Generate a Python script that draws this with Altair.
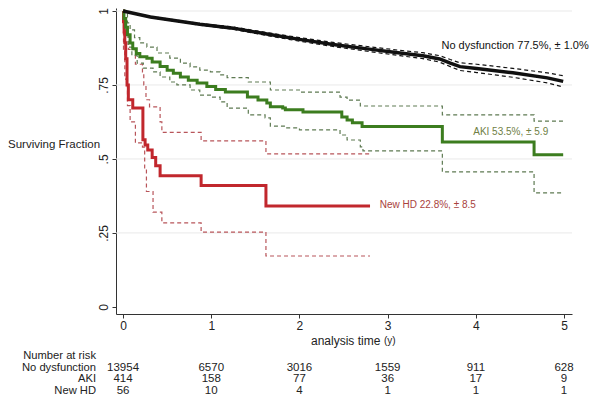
import altair as alt
import pandas as pd

FONT = "Liberation Sans"

# ---------------- data ----------------
x_ticks = [0, 1, 2, 3, 4, 5]
y_ticks = [0, 0.25, 0.5, 0.75, 1]
y_tick_labels = ["0", ".25", ".5", ".75", "1"]
grid_levels = [0.25, 0.5, 0.75, 1]

# No dysfunction
nodys_t = [0, 0.31, 0.87, 1.25, 1.63, 2.0, 2.38, 2.77, 3.14, 3.40, 3.59, 3.71, 3.82, 4.01, 4.42, 4.81, 4.99]
nodys_s = [1, 0.980, 0.955, 0.942, 0.922, 0.904, 0.887, 0.872, 0.858, 0.849, 0.838, 0.824, 0.812, 0.806, 0.791, 0.774, 0.762]
nodys_hi = [1, 0.982, 0.958, 0.946, 0.927, 0.910, 0.894, 0.880, 0.867, 0.859, 0.849, 0.836, 0.825, 0.820, 0.806, 0.791, 0.781]
nodys_lo = [1, 0.978, 0.952, 0.938, 0.917, 0.898, 0.880, 0.864, 0.849, 0.839, 0.827, 0.812, 0.799, 0.792, 0.776, 0.757, 0.743]

# AKI
aki_t = [0, 0.01, 0.03, 0.05, 0.08, 0.11, 0.15, 0.19, 0.27, 0.33, 0.42, 0.50, 0.57, 0.65, 0.74, 0.84, 0.95,
         1.05, 1.16, 1.41, 1.53, 1.63, 1.67, 1.81, 1.84, 2.04, 2.48, 2.54, 2.60, 2.71, 3.62, 4.66, 4.99]
aki_s = [1, 0.975, 0.945, 0.920, 0.892, 0.872, 0.856, 0.845, 0.840, 0.828, 0.812, 0.800, 0.790, 0.777, 0.766, 0.757, 0.745,
         0.735, 0.726, 0.709, 0.699, 0.689, 0.676, 0.672, 0.666, 0.659, 0.642, 0.632, 0.622, 0.610, 0.557, 0.514, 0.514]
aki_hi_t = [0, 0.02, 0.05, 0.08, 0.13, 0.19, 0.27, 0.385, 0.53, 0.65, 0.76, 0.87, 0.99, 1.1, 1.18, 1.42, 1.67,
            2.0, 2.46, 2.54, 2.69, 3.62, 4.66, 4.99]
aki_hi = [1, 0.990, 0.960, 0.936, 0.910, 0.892, 0.878, 0.858, 0.841, 0.824, 0.811, 0.800, 0.794, 0.784, 0.775, 0.760, 0.733,
          0.726, 0.709, 0.699, 0.679, 0.649, 0.628, 0.628]
aki_lo_t = [0, 0.01, 0.03, 0.057, 0.1, 0.16, 0.23, 0.34, 0.42, 0.53, 0.61, 0.76, 0.87, 0.99, 1.1, 1.18, 1.42,
            1.61, 1.67, 1.84, 2.0, 2.46, 2.54, 2.69, 2.72, 3.62, 4.66, 4.99]
aki_lo = [1, 0.960, 0.920, 0.878, 0.850, 0.824, 0.807, 0.794, 0.777, 0.760, 0.750, 0.733, 0.716, 0.709, 0.693, 0.672, 0.649,
          0.639, 0.611, 0.605, 0.598, 0.581, 0.564, 0.541, 0.527, 0.456, 0.385, 0.385]

# New HD
hd_t = [0, 0.005, 0.012, 0.02, 0.03, 0.045, 0.06, 0.11, 0.225, 0.25, 0.28, 0.33, 0.37, 0.42, 0.885, 1.62, 2.80]
hd_s = [1, 0.964, 0.929, 0.893, 0.839, 0.750, 0.700, 0.672, 0.565, 0.547, 0.530, 0.505, 0.477, 0.443, 0.410, 0.341, 0.341]
hd_hi_t = [0, 0.01, 0.03, 0.06, 0.14, 0.22, 0.235, 0.26, 0.30, 0.42, 0.44, 0.885, 1.62, 2.80]
hd_hi = [1, 0.970, 0.930, 0.870, 0.820, 0.790, 0.750, 0.700, 0.676, 0.625, 0.590, 0.561, 0.517, 0.517]
hd_lo_t = [0, 0.005, 0.02, 0.05, 0.08, 0.14, 0.22, 0.245, 0.265, 0.34, 0.44, 0.885, 1.62, 2.80]
hd_lo = [1, 0.870, 0.770, 0.680, 0.625, 0.554, 0.540, 0.470, 0.390, 0.320, 0.284, 0.253, 0.172, 0.172]

# curve labels
curve_labels = ["No dysfunction 77.5%, \u00b1 1.0%", "AKI 53.5%, \u00b1 5.9", "New HD 22.8%, \u00b1 8.5"]
curve_label_x = [3.61, 3.97, 2.91]
curve_label_y = [0.882, 0.591, 0.345]

# number at risk
risk_title = "Number at risk"
risk_groups = ["No dysfunction", "AKI", "New HD"]
risk_nodys = [13954, 6570, 3016, 1559, 911, 628]
risk_aki = [414, 158, 77, 36, 17, 9]
risk_hd = [56, 10, 4, 1, 1, 1]

# ---------------- styling ----------------
BLACK = "#111111"
GREEN = "#3c7d1f"
GREEN_CI = "#5e7a52"
RED = "#c1272d"
RED_CI = "#b8555a"
AXIS = "#333333"
TXT = "#222222"

X_SCALE = alt.Scale(domain=[-0.08, 5.09], nice=False, zero=False)
Y_SCALE = alt.Scale(domain=[-0.024, 1.0101], nice=False, zero=False)

y_expr = " : ".join(
    f"datum.value == {v} ? '{l}'" for v, l in zip(y_ticks, y_tick_labels)
) + " : ''"

X_AXIS = alt.Axis(values=x_ticks, format="d", tickSize=4, labelPadding=2, grid=False, title=None,
                  domainColor=AXIS, tickColor=AXIS, labelColor=TXT, labelFont=FONT,
                  labelFontSize=12, domainWidth=1, tickWidth=1)
Y_AXIS = alt.Axis(values=y_ticks, labelExpr=y_expr, labelAngle=270, labelAlign="center",
                  labelBaseline="bottom", labelPadding=2, tickSize=4, grid=False, title=None,
                  domainColor=AXIS, tickColor=AXIS, labelColor=TXT, labelFont=FONT,
                  labelFontSize=12, domainWidth=1, tickWidth=1)


def xenc(field="t"):
    return alt.X(f"{field}:Q", scale=X_SCALE, axis=X_AXIS)


def yenc(field="s"):
    return alt.Y(f"{field}:Q", scale=Y_SCALE, axis=Y_AXIS)


def curve(t, s, color, width, dash=None, interp="step-after"):
    df = pd.DataFrame({"t": t, "s": s})
    kw = dict(color=color, strokeWidth=width, interpolate=interp)
    if dash:
        kw["strokeDash"] = dash
    return alt.Chart(df).mark_line(**kw).encode(x=xenc(), y=yenc())


def fixed_text(txt, px, py, size, align="left", color=TXT):
    return (
        alt.Chart(pd.DataFrame({"lab": [txt]}))
        .mark_text(align=align, baseline="middle", font=FONT, fontSize=size, color=color)
        .encode(x=alt.value(px), y=alt.value(py), text="lab:N")
    )


layers = []

# grid lines
grid_df = pd.DataFrame({"s": grid_levels})
layers.append(alt.Chart(grid_df).mark_rule(color="#e9e9e9", strokeWidth=1).encode(y=yenc()))

# confidence bands (dashed)
DASH = [4, 3]
layers.append(curve(hd_hi_t, hd_hi, RED_CI, 1.2, DASH))
layers.append(curve(hd_lo_t, hd_lo, RED_CI, 1.2, DASH))
layers.append(curve(aki_hi_t, aki_hi, GREEN_CI, 1.2, DASH))
layers.append(curve(aki_lo_t, aki_lo, GREEN_CI, 1.2, DASH))
layers.append(curve(nodys_t, nodys_hi, BLACK, 1.2, DASH, "linear"))
layers.append(curve(nodys_t, nodys_lo, BLACK, 1.2, DASH, "linear"))

# survival curves
layers.append(curve(hd_t, hd_s, RED, 3))
layers.append(curve(aki_t, aki_s, GREEN, 3))
layers.append(curve(nodys_t, nodys_s, BLACK, 3.5, None, "linear"))

# curve labels
label_styles = [(BLACK, 11), ("#6f8045", 10), ("#a9423d", 10)]
for lab, lx, ly, (col, fs) in zip(curve_labels, curve_label_x, curve_label_y, label_styles):
    df = pd.DataFrame({"t": [lx], "s": [ly], "lab": [lab]})
    layers.append(
        alt.Chart(df).mark_text(align="left", baseline="middle", font=FONT, fontSize=fs, color=col)
        .encode(x=xenc(), y=yenc(), text="lab:N")
    )

# axis titles
layers.append(fixed_text("Surviving Fraction", -108, 137, 11.5))
layers.append(fixed_text("analysis time", 195, 333, 12))
layers.append(fixed_text("(y)", 268, 333, 10))

# number at risk table
row_y = [348, 359.5, 371, 382.5]
layers.append(fixed_text(risk_title, -20, row_y[0], 11.2, align="right"))
for g, vals, yy in zip(risk_groups, [risk_nodys, risk_aki, risk_hd], row_y[1:]):
    layers.append(fixed_text(g, -20, yy, 11.2, align="right"))
    df = pd.DataFrame({"t": x_ticks, "n": [str(v) for v in vals]})
    layers.append(
        alt.Chart(df)
        .mark_text(align="center", baseline="middle", font=FONT, fontSize=11.5, color=TXT)
        .encode(x=xenc(), y=alt.value(yy), text="n:N")
    )

chart = (
    alt.layer(*layers)
    .properties(
        width=456,
        height=306,
        autosize=alt.AutoSizeParams(type="none"),
        padding={"left": 108, "top": 0, "right": 20, "bottom": 82},
        background="white",
    )
    .configure_view(stroke=None)
)

chart.save("out.html", embed_options={"renderer": "svg", "actions": False})
